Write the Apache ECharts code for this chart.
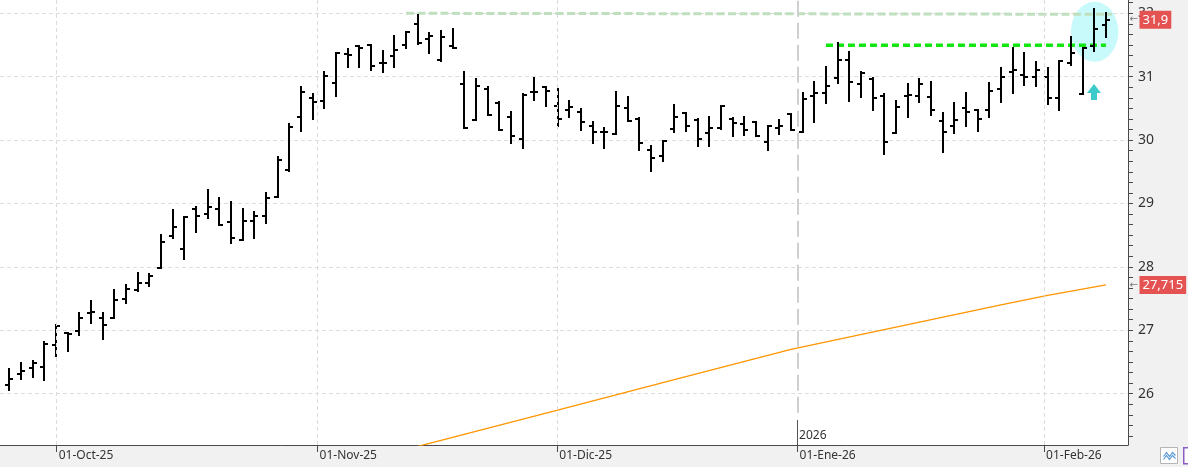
<!DOCTYPE html>
<html>
<head>
<meta charset="utf-8">
<script src="https://cdn.jsdelivr.net/npm/echarts@6/dist/echarts.min.js"></script>
<style>
  html, body { margin: 0; padding: 0; background: #f1f1f2; }
  #chart { width: 1188px; height: 467px; }
</style>
</head>
<body>
<div id="chart"></div>
<script>
// daily OHLC bars, oldest first (index = bar number)
const opens = [26.14, 26.31, 26.40, 26.42, 26.77, 26.96, 26.99, 27.27, 27.20, 27.20,
  27.49, 27.63, 27.75, 27.99, 28.48, 28.28, 28.91, 28.84, 28.91, 28.71,
  28.42, 28.72, 28.81, 29.10, 29.53, 30.37, 30.66, 30.62, 30.90, 31.36,
  31.48, 31.50, 31.22, 31.32, 31.50, 31.83, 31.60, 31.27, 31.48, 30.88,
  30.31, 30.80, 30.59, 30.36, 30.02, 30.76, 30.83, 30.54, 30.48, 30.44,
  30.22, 30.13, 30.10, 30.51, 30.33, 29.84, 29.75, 30.17, 30.42, 30.32,
  30.11, 30.19, 30.34, 30.25, 30.29, 29.97, 30.19, 30.41, 30.12, 30.70,
  30.75, 30.98, 31.27, 30.89, 30.97, 30.69, 30.11, 30.69, 30.70, 30.68,
  30.30, 30.23, 30.51, 30.48, 30.48, 30.81, 31.08, 31.02, 31.00, 31.00,
  30.67, 31.22, 30.73, 31.49, 31.81];
const highs = [26.39, 26.48, 26.51, 26.81, 27.08, 26.96, 27.27, 27.46, 27.27, 27.64,
  27.72, 27.90, 27.89, 28.50, 28.90, 28.78, 28.94, 29.22, 29.09, 29.02,
  28.91, 28.86, 29.16, 29.73, 30.25, 30.83, 30.72, 31.08, 31.38, 31.43,
  31.48, 31.50, 31.40, 31.64, 31.71, 31.97, 31.69, 31.72, 31.75, 31.07,
  30.97, 30.83, 30.60, 30.44, 30.72, 30.98, 30.83, 30.81, 30.62, 30.49,
  30.29, 30.19, 30.76, 30.68, 30.35, 29.91, 29.99, 30.56, 30.43, 30.33,
  30.37, 30.54, 30.35, 30.37, 30.29, 30.23, 30.31, 30.41, 30.74, 30.92,
  31.16, 31.53, 31.39, 31.07, 30.98, 30.73, 30.62, 30.88, 30.96, 30.92,
  30.43, 30.59, 30.75, 30.48, 30.90, 31.13, 31.45, 31.37, 31.23, 31.14,
  31.25, 31.63, 31.46, 32.07, 32.01];
const lows = [26.06, 26.23, 26.27, 26.22, 26.60, 26.68, 26.92, 27.11, 26.87, 27.20,
  27.43, 27.62, 27.70, 27.99, 28.45, 28.13, 28.55, 28.77, 28.66, 28.38,
  28.42, 28.46, 28.70, 29.10, 29.51, 30.14, 30.34, 30.50, 30.70, 31.16,
  31.16, 31.10, 31.07, 31.16, 31.46, 31.51, 31.38, 31.24, 31.45, 30.19,
  30.31, 30.39, 30.16, 29.96, 29.88, 30.64, 30.53, 30.22, 30.36, 30.16,
  29.96, 29.88, 30.09, 30.30, 29.84, 29.52, 29.67, 30.12, 30.15, 29.90,
  29.90, 30.17, 30.07, 30.08, 30.06, 29.85, 30.09, 30.16, 30.12, 30.28,
  30.59, 30.90, 30.61, 30.68, 30.47, 29.78, 30.11, 30.36, 30.60, 30.39,
  29.82, 30.11, 30.22, 30.15, 30.36, 30.60, 30.74, 30.87, 30.85, 30.57,
  30.47, 31.18, 30.73, 31.41, 31.63];
const closes = [26.23, 26.36, 26.49, 26.78, 27.07, 26.94, 27.20, 27.29, 27.08, 27.47,
  27.65, 27.75, 27.86, 28.39, 28.63, 28.78, 28.81, 28.94, 28.66, 28.45,
  28.73, 28.81, 29.09, 29.69, 30.21, 30.76, 30.60, 31.01, 31.38, 31.34,
  31.46, 31.17, 31.22, 31.42, 31.70, 31.53, 31.64, 31.63, 31.45, 30.19,
  30.85, 30.39, 30.16, 30.06, 30.71, 30.76, 30.78, 30.34, 30.52, 30.29,
  30.13, 30.13, 30.54, 30.30, 29.95, 29.72, 29.99, 30.37, 30.22, 30.01,
  30.19, 30.54, 30.27, 30.16, 30.06, 30.22, 30.23, 30.16, 30.65, 30.75,
  30.86, 31.26, 30.92, 31.06, 30.66, 29.97, 30.52, 30.71, 30.89, 30.47,
  30.13, 30.32, 30.44, 30.34, 30.78, 31.00, 31.10, 31.00, 31.10, 30.67,
  31.25, 31.37, 31.46, 31.75, 31.90];

// moving average read at a few bars: [bar, value]
const maLine = [[34, 25.12], [47, 25.74], [57, 26.22], [67, 26.70], [85, 27.40], [89, 27.55], [94, 27.715]];

// month tick positions (in bar units) and their labels
const monthPos = [4.06, 26.42, 46.97, 67.57, 88.7];
const monthLabels = ['01-Oct-25', '01-Nov-25', '01-Dic-25', '01-Ene-26', '01-Feb-26'];
const yearPos = 67.57;
const yearLabel = '2026';

const yTicks = [26, 27, 28, 29, 30, 31, 32];

// drawn annotations, in [bar, price]
const oldHighLine = [[34, 32.0], [94.5, 31.985]];
const breakoutLine = [[70, 31.497], [94, 31.497]];
const highlight = [[93.03, 31.71, 2.03, 0.473]]; // centre bar, centre price, half-width (bars), half-height (price)
const arrowAt = [[93, 30.88]];

const lastClose = 31.9;
const maLast = 27.715;

const Y_MIN = 25.19, Y_MAX = 32.21, X_MIN = -0.8, X_MAX = 95.89;
const font = 'Noto Sans';
const axisColor = '#4a4a4a';

const yMinor = [];
for (let v = 25; v <= 32.3; v += 1 / 6) yMinor.push(+v.toFixed(4));

const bars = opens.map((o, i) => [i, o, highs[i], lows[i], closes[i]]);

function renderBar(params, api) {
  const i = api.value(0);
  const h = api.coord([i, api.value(2)]);
  const l = api.coord([i, api.value(3)]);
  const o = api.coord([i, api.value(1)]);
  const c = api.coord([i, api.value(4)]);
  const x = Math.round(h[0]);
  const st = { stroke: '#000', lineWidth: 2 };
  return {
    type: 'group',
    children: [
      { type: 'line', shape: { x1: x, y1: Math.round(h[1]) - 1, x2: x, y2: Math.round(l[1]) + 1 }, style: st },
      { type: 'line', shape: { x1: x - 4, y1: Math.round(o[1]), x2: x, y2: Math.round(o[1]) }, style: st },
      { type: 'line', shape: { x1: x, y1: Math.round(c[1]), x2: x + 4, y2: Math.round(c[1]) }, style: st }
    ]
  };
}

function renderEllipse(params, api) {
  const p = api.coord([api.value(0), api.value(1)]);
  const rx = api.size([api.value(2), 0])[0];
  const ry = api.size([0, api.value(3)])[1];
  return {
    type: 'circle',
    x: p[0], y: p[1], scaleX: rx / ry, scaleY: 1,
    shape: { cx: 0, cy: 0, r: ry },
    style: { fill: '#c8f9fb' }
  };
}

function renderArrow(params, api) {
  const p = api.coord([api.value(0), api.value(1)]);
  const x = Math.round(p[0]), y = Math.round(p[1]);
  return {
    type: 'polygon',
    shape: { points: [[x, y], [x + 7, y + 9], [x + 3, y + 9], [x + 3, y + 16], [x - 3, y + 16], [x - 3, y + 9], [x - 7, y + 9]] },
    style: { fill: '#3cc9c9' }
  };
}

const fmt = v => String(v).replace('.', ',');

function badge(value) {
  return {
    coord: [X_MAX, value],
    label: {
      show: true, position: 'right', distance: 1,
      formatter: '{a|←}{b|' + fmt(value) + '}',
      rich: {
        a: { color: '#777', fontSize: 10, width: 10, fontFamily: 'DejaVu Sans' },
        b: { backgroundColor: '#e45352', color: '#fff', fontSize: 13, fontFamily: font, padding: [3, 3, 2, 3], lineHeight: 15 }
      }
    }
  };
}

const gridLines = monthPos.filter(p => p !== yearPos).map(p => ({ xAxis: p }));

const chart = echarts.init(document.getElementById('chart'));
chart.setOption({
  animation: false,
  backgroundColor: '#f1f1f2',
  grid: { left: 0, right: 60, top: 0, bottom: 22, show: true, backgroundColor: '#fff', borderWidth: 0 },
  xAxis: {
    type: 'value', min: X_MIN, max: X_MAX,
    axisLine: { show: true, onZero: false, lineStyle: { color: axisColor } },
    axisTick: { show: true, customValues: monthPos, length: 7, lineStyle: { color: axisColor } },
    axisLabel: {
      customValues: monthPos, align: 'left', margin: 5, padding: [0, 0, 0, 2],
      fontSize: 12, color: '#333', fontFamily: font,
      formatter: v => monthLabels[monthPos.findIndex(p => Math.abs(p - v) < 1e-6)] || ''
    },
    splitLine: { show: false }
  },
  yAxis: [{
    type: 'value', position: 'right', min: Y_MIN, max: Y_MAX,
    axisLine: { show: true, onZero: false, lineStyle: { color: axisColor } },
    axisTick: { show: true, customValues: yTicks, length: 5, lineStyle: { color: axisColor } },
    axisLabel: { customValues: yTicks, margin: 10, fontSize: 14, color: '#333', fontFamily: font },
    splitLine: { show: true, lineStyle: { color: '#dcdcdc', type: [4, 3] } }
  }, {
    type: 'value', position: 'right', min: Y_MIN, max: Y_MAX,
    axisLine: { show: false, onZero: false },
    axisTick: { show: true, customValues: yMinor, length: 5, lineStyle: { color: axisColor } },
    axisLabel: { show: false },
    splitLine: { show: false }
  }],
  series: [
    {
      type: 'line', data: maLine, symbol: 'none', z: 1, silent: true,
      lineStyle: { color: '#ff9500', width: 1.3 },
      markLine: {
        silent: true, symbol: ['none', 'none'], label: { show: false }, animation: false,
        lineStyle: { color: '#dcdcdc', type: [4, 3], width: 1 },
        data: gridLines.concat([
          [{ coord: [yearPos, 25.7], lineStyle: { color: '#cfcfcf', type: [16, 6], width: 2 } }, { coord: [yearPos, Y_MAX] }],
          [{ coord: [yearPos, Y_MIN], lineStyle: { color: '#555', type: 'solid', width: 1 } }, { coord: [yearPos, 25.585] }]
        ])
      }
    },
    {
      type: 'custom', data: highlight, renderItem: renderEllipse, z: 2, silent: true,
      encode: { x: 0, y: 1 }
    },
    {
      type: 'line', data: oldHighLine, symbol: 'none', z: 3, silent: true,
      lineStyle: { color: '#bfdfbf', width: 3, type: [8, 3.5], cap: 'butt' }
    },
    {
      type: 'line', data: breakoutLine, symbol: 'none', z: 3, silent: true,
      lineStyle: { color: '#11e611', width: 3.5, type: [7, 4], cap: 'butt' }
    },
    {
      type: 'custom', data: bars, renderItem: renderBar, z: 4, silent: true,
      encode: { x: 0, y: [1, 2, 3, 4] }
    },
    {
      type: 'custom', data: arrowAt, renderItem: renderArrow, z: 5, silent: true,
      encode: { x: 0, y: 1 }
    },
    {
      type: 'scatter', data: [], z: 10, silent: true,
      markPoint: {
        symbol: 'rect', symbolSize: [1, 1], itemStyle: { color: 'rgba(0,0,0,0)' }, animation: false,
        data: [
          badge(lastClose),
          badge(maLast),
          {
            coord: [yearPos, Y_MIN],
            label: { show: true, position: 'right', distance: 1, offset: [0, -9], formatter: yearLabel, fontSize: 12, color: '#333', fontFamily: font }
          }
        ]
      }
    }
  ],
  graphic: [
    {
      type: 'group', left: 1160, top: 447,
      children: [
        { type: 'rect', shape: { x: 0, y: 0, width: 17, height: 16 }, style: { fill: '#fff', stroke: '#b5b5b5' } },
        { type: 'polyline', shape: { points: [[3, 9], [6, 5], [9, 9], [12, 5], [15, 8]] }, style: { stroke: '#5b9bd5', lineWidth: 1.2, fill: null } },
        { type: 'polyline', shape: { points: [[3, 12], [6, 8], [9, 12], [12, 8], [15, 11]] }, style: { stroke: '#5b9bd5', lineWidth: 1.2, fill: null } }
      ]
    },
    {
      type: 'rect', left: 1183, top: 447, shape: { width: 10, height: 16 },
      style: { fill: '#fff', stroke: '#8a5cc8', lineWidth: 1.5 }
    }
  ]
});
</script>
</body>
</html>
